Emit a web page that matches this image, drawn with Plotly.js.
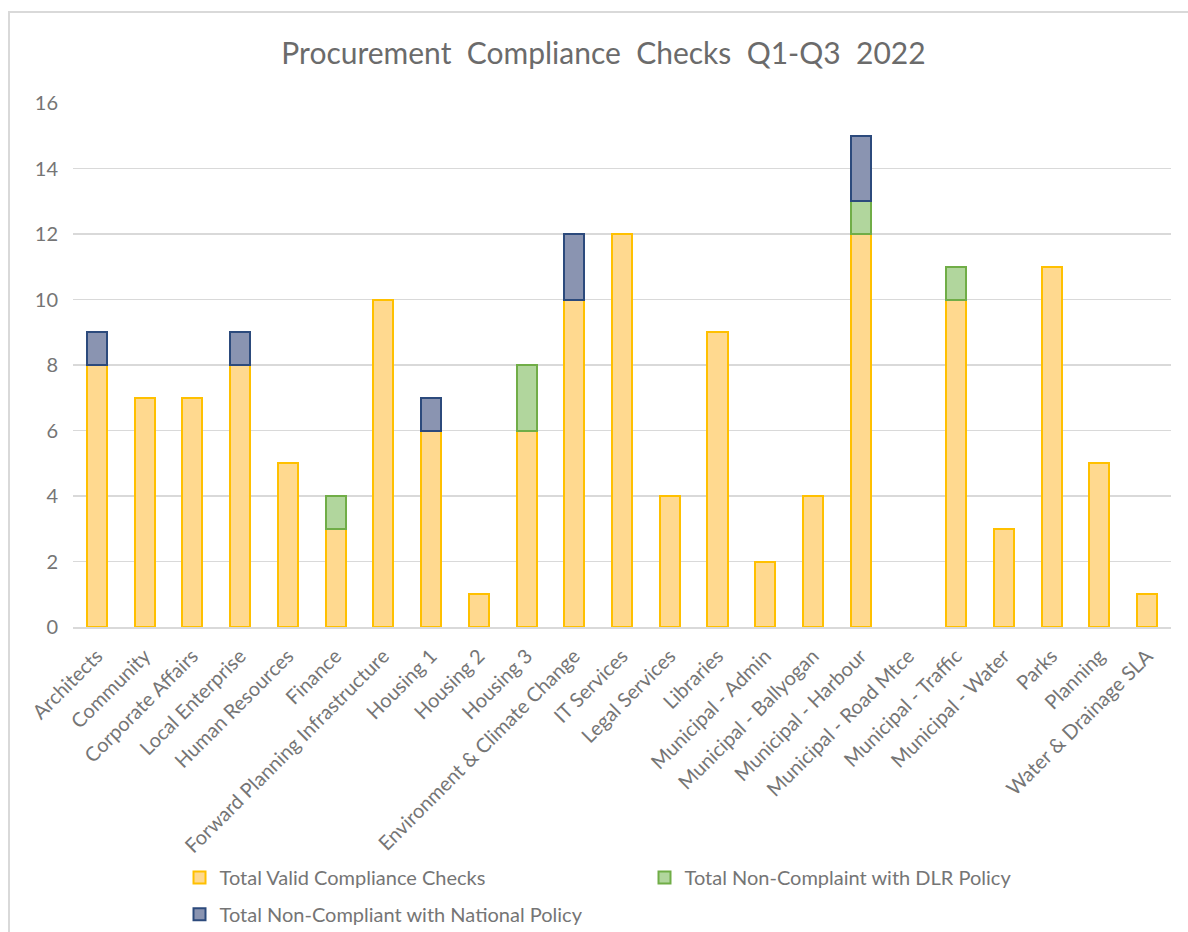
<!DOCTYPE html>
<html>
<head>
<meta charset="utf-8">
<script src="https://cdn.plot.ly/plotly-3.0.1.min.js"></script>
<style>html,body{margin:0;padding:0;background:#fff;}#chart{width:1188px;height:932px;}</style>
</head>
<body>
<div id="chart"></div>
<script>
const categories = ["Architects","Community","Corporate Affairs","Local Enterprise","Human Resources","Finance","Forward Planning Infrastructure","Housing 1","Housing 2","Housing 3","Environment & Climate Change","IT Services","Legal Services","Libraries","Municipal - Admin","Municipal - Ballyogan","Municipal - Harbour","Municipal - Road Mtce","Municipal - Traffic","Municipal - Water","Parks","Planning","Water & Drainage SLA"];
const validChecks = [8,7,7,8,5,3,10,6,1,6,10,12,4,9,2,4,12,0,10,3,11,5,1];
const nonCompliantDLR = [0,0,0,0,0,1,0,0,0,2,0,0,0,0,0,0,1,0,1,0,0,0,0];
const nonCompliantNational = [1,0,0,1,0,0,0,1,0,0,2,0,0,0,0,0,2,0,0,0,0,0,0];
const yTicks = [0,2,4,6,8,10,12,14,16];

const font = "Lato, 'Liberation Sans', sans-serif";
const mk = (fill, line) => ({color: fill, line: {color: line, width: 2}});
const nz = arr => arr.map(v => v === 0 ? null : v);

const traces = [
  {type:'bar', name:'Total Valid Compliance Checks', x:categories, y:nz(validChecks), marker:mk('#FFD98F','#FFC000'), legend:'legend'},
  {type:'bar', name:'Total Non-Complaint with DLR Policy', x:categories, y:nz(nonCompliantDLR), marker:mk('#B1D69D','#70AD47'), legend:'legend'},
  {type:'bar', name:'Total Non-Compliant with National Policy', x:categories, y:nz(nonCompliantNational), marker:mk('#8A94B1','#2C4A7C'), legend:'legend2'}
];

const legendBase = {orientation:'h', x:0.097, xanchor:'left', yanchor:'top', entrywidth:420, entrywidthmode:'pixels', traceorder:'normal', font:{size:20, color:'#757575'}, itemwidth:30, bgcolor:'rgba(0,0,0,0)'};

const layout = {
  width:1188, height:932,
  margin:{l:73, r:17, t:103, b:305, autoexpand:false},
  barmode:'stack', bargap:0.58,
  paper_bgcolor:'#fff', plot_bgcolor:'#fff',
  font:{family:font, color:'#757575', size:20},
  title:{text:'Procurement  Compliance  Checks  Q1-Q3  2022', font:{family:font, size:30, color:'#6b6b6b'}, x:0.508, xanchor:'center', y:0.943, yanchor:'middle'},
  xaxis:{tickangle:-45, tickfont:{size:20, color:'#757575'}, showline:true, linecolor:'#d9d9d9', linewidth:1.5, ticks:'', ticklabelstandoff:8, automargin:false},
  yaxis:{range:[0,16], tickvals:yTicks, tickfont:{size:20, color:'#757575'}, gridcolor:'#d9d9d9', gridwidth:1.5, zeroline:false, showline:false, ticks:'', ticklabelstandoff:14, automargin:false},
  showlegend:true,
  legend:Object.assign({}, legendBase, {y:-0.441}),
  legend2:Object.assign({}, legendBase, {y:-0.511}),
  shapes:[{type:'rect', xref:'paper', yref:'paper', x0:-0.0583, x1:1.02, y0:-0.7, y1:1.1737, line:{color:'#d9d9d9', width:2}, fillcolor:'rgba(0,0,0,0)', layer:'below'}]
};

Plotly.newPlot('chart', traces, layout, {displayModeBar:false, staticPlot:true});
</script>
</body>
</html>
